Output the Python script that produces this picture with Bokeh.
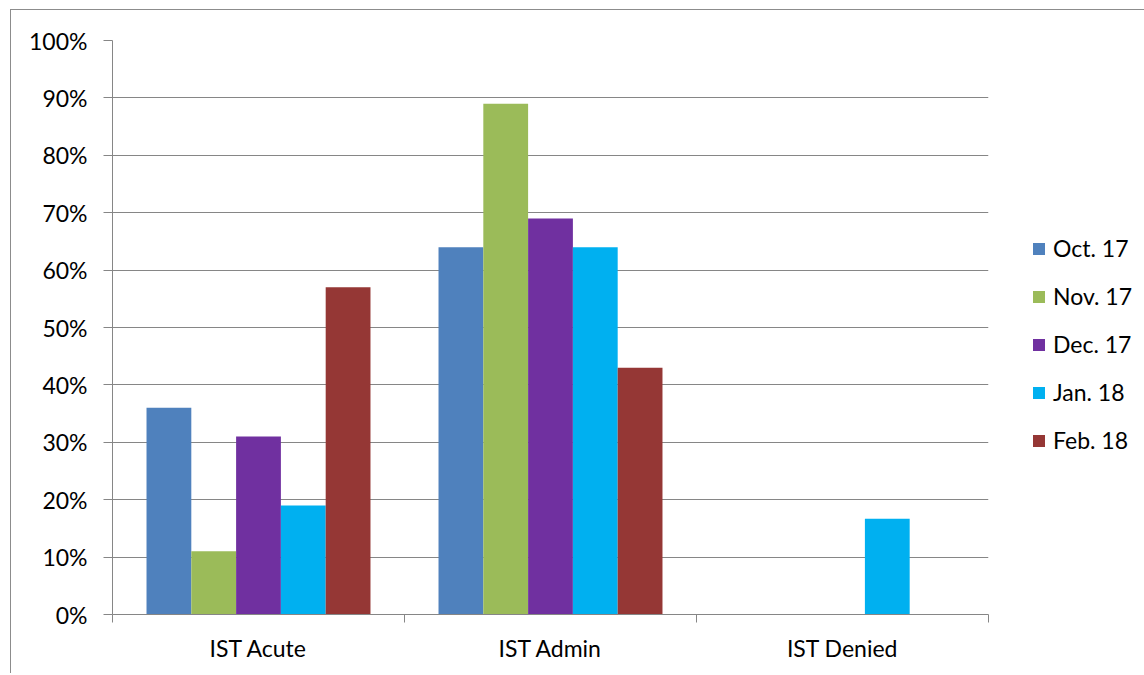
from bokeh.plotting import figure
from bokeh.models import (Range1d, LinearAxis, FixedTicker, NumeralTickFormatter,
                          Legend, LegendItem, ColumnDataSource)
from bokeh.transform import dodge
from bokeh.embed import file_html
from bokeh.resources import INLINE

categories = ["IST Acute", "IST Admin", "IST Denied"]
series_names = ["Oct. 17", "Nov. 17", "Dec. 17", "Jan. 18", "Feb. 18"]
oct17 = [0.36, 0.64, 0.0]
nov17 = [0.11, 0.89, 0.0]
dec17 = [0.31, 0.69, 0.0]
jan18 = [0.19, 0.64, 0.167]
feb18 = [0.57, 0.43, 0.0]
y_ticks = [0.0, 0.1, 0.2, 0.3, 0.4, 0.5, 0.6, 0.7, 0.8, 0.9, 1.0]

colors = ["#4F81BD", "#9BBB59", "#7030A0", "#00B0F0", "#953735"]
FONT = "Lato"
FS = "23px"
GRAY = "#868686"

centers = [i + 0.5 for i in range(len(categories))]
bounds = [float(i) for i in range(len(categories) + 1)]

source = ColumnDataSource(dict(x=centers, s0=oct17, s1=nov17, s2=dec17, s3=jan18, s4=feb18))

p = figure(x_range=Range1d(0, len(categories)), y_range=Range1d(0, 1),
           frame_width=876, frame_height=574, output_backend="svg", toolbar_location=None,
           x_axis_location=None, y_axis_location=None,
           min_border_left=101, min_border_right=153, min_border_top=30, min_border_bottom=59)
p.outline_line_color = None
p.background_fill_color = "white"
p.border_fill_color = "white"
p.styles = {"margin-left": "10px", "margin-top": "9px",
            "border-left": "1px solid #8c8c8c", "border-top": "1px solid #8c8c8c"}

bw = 0.1534
renderers = []
for i, name in enumerate(series_names):
    off = (i - 2) * bw
    r = p.vbar(x=dodge("x", off), top="s%d" % i, width=bw,
               source=source, fill_color=colors[i], line_color=None)
    renderers.append(r)

# y axis
yaxis = LinearAxis(ticker=FixedTicker(ticks=y_ticks), formatter=NumeralTickFormatter(format="0%"))
yaxis.axis_line_color = GRAY
yaxis.major_tick_line_color = GRAY
yaxis.major_tick_out = 9
yaxis.major_tick_in = 0
yaxis.minor_tick_line_color = None
yaxis.major_label_standoff = 16
yaxis.major_label_text_font = FONT
yaxis.major_label_text_font_size = FS
yaxis.major_label_text_color = "black"
p.add_layout(yaxis, "left")

p.ygrid.grid_line_color = GRAY
p.ygrid.ticker = FixedTicker(ticks=y_ticks)
p.xgrid.grid_line_color = None

# x axis: labels at category centres, tick marks at category boundaries
xaxis = LinearAxis(ticker=FixedTicker(ticks=centers, minor_ticks=bounds))
xaxis.major_label_overrides = {c: name for c, name in zip(centers, categories)}
xaxis.axis_line_color = GRAY
xaxis.major_tick_line_color = None
xaxis.major_tick_out = 0
xaxis.major_tick_in = 0
xaxis.minor_tick_line_color = GRAY
xaxis.minor_tick_out = 8
xaxis.minor_tick_in = 0
xaxis.major_label_standoff = 11
xaxis.major_label_text_font = FONT
xaxis.major_label_text_font_size = FS
xaxis.major_label_text_color = "black"
p.add_layout(xaxis, "below")

legend = Legend(items=[LegendItem(label=n, renderers=[r]) for n, r in zip(series_names, renderers)],
                location=(43, 160))
legend.padding = 0
legend.margin = 0
legend.border_line_color = None
legend.background_fill_alpha = 0
legend.glyph_width = 15
legend.glyph_height = 15
legend.label_height = 28
legend.spacing = 20
legend.label_standoff = 7
legend.label_text_font = FONT
legend.label_text_font_size = FS
legend.label_text_color = "black"
p.add_layout(legend, "right")

open("out.html", "w").write(file_html(p, INLINE))
